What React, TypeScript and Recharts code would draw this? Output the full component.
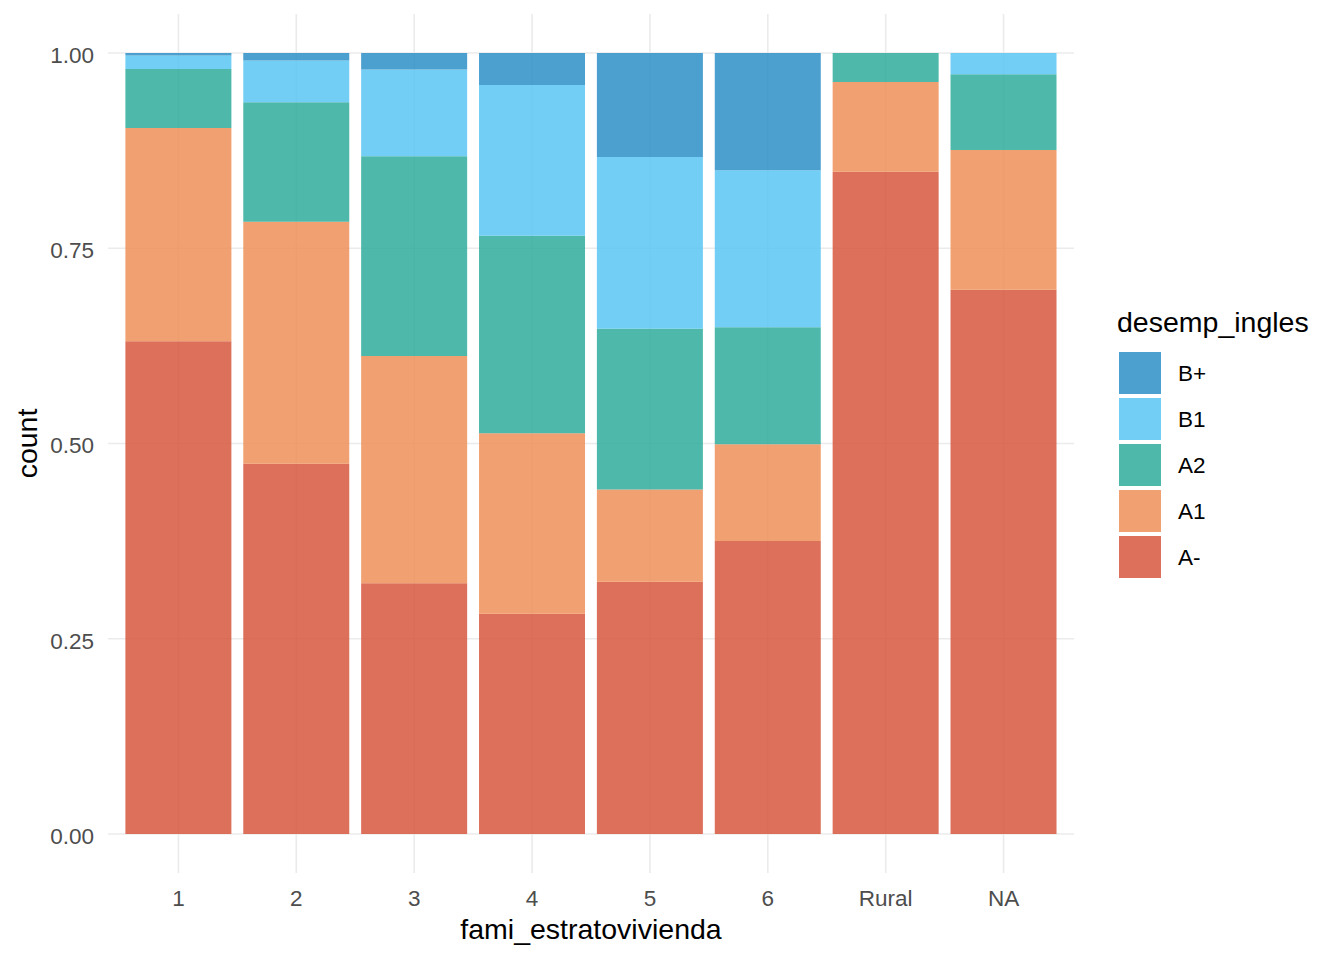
import React from 'react';
import { BarChart, Bar, XAxis, YAxis, CartesianGrid, Legend } from 'recharts';

const CATEGORIES = ['1', '2', '3', '4', '5', '6', 'Rural', 'NA'];
const SERIES = ['A-', 'A1', 'A2', 'B1', 'B+'];
const A_MINUS = [0.631, 0.474, 0.321, 0.282, 0.323, 0.375, 0.848, 0.697];
const A1 = [0.273, 0.31, 0.291, 0.231, 0.118, 0.124, 0.115, 0.179];
const A2 = [0.0755, 0.153, 0.256, 0.253, 0.206, 0.15, 0.037, 0.097];
const B1 = [0.0175, 0.0536, 0.111, 0.193, 0.22, 0.201, 0, 0.027];
const B_PLUS = [0.003, 0.0094, 0.021, 0.041, 0.133, 0.15, 0, 0];
const MAJOR_TICKS = [0, 0.25, 0.5, 0.75, 1];
const MINOR_TICKS = [0.125, 0.375, 0.625, 0.875];
const COLORS: Record<string, string> = {
  'A-': '#D6573D',
  A1: '#EE9058',
  A2: '#2FAC9C',
  B1: '#59C5F2',
  'B+': '#2D8FC8',
};
const VALUES: Record<string, number[]> = { 'A-': A_MINUS, A1, A2, B1, 'B+': B_PLUS };

const data = CATEGORIES.map((c, i) => {
  const row: Record<string, any> = { cat: c };
  SERIES.forEach((s) => (row[s] = VALUES[s][i]));
  return row;
});

const FONT = '"Liberation Sans", Arial, sans-serif';
const ALPHA = 0.85;

const renderLegend = (props: any) => {
  const payload = [...(props.payload || [])].sort(
    (a: any, b: any) => SERIES.indexOf(b.value) - SERIES.indexOf(a.value)
  );
  return (
    <div style={{ fontFamily: FONT }}>
      <div style={{ fontSize: 28.5, lineHeight: 1, color: '#000', marginLeft: -2, whiteSpace: 'nowrap' }}>
        desemp_ingles
      </div>
      <div style={{ height: 15.5 }} />
      {payload.map((p: any) => (
        <div key={p.value} style={{ display: 'flex', alignItems: 'center', height: 42, marginBottom: 4 }}>
          <div style={{ width: 42, height: 42, background: p.color, opacity: ALPHA }} />
          <span style={{ marginLeft: 17, fontSize: 22.5, lineHeight: 1, color: '#000', position: 'relative', top: 1 }}>
            {p.value}
          </span>
        </div>
      ))}
    </div>
  );
};

export default function App() {
  return (
    <div style={{ position: 'absolute', left: 0, top: 0, width: 1344, height: 960, fontFamily: FONT, background: '#fff' }}>
      <BarChart
        width={1344}
        height={960}
        data={data}
        margin={{ top: 14, right: 270, bottom: 0, left: 0 }}
        barCategoryGap="5%"
      >
        <CartesianGrid yAxisId="minor" vertical={false} stroke="#ebebeb" strokeWidth={0.9} syncWithTicks />
        <CartesianGrid yAxisId="major" stroke="#ebebeb" strokeWidth={1.6} syncWithTicks />
        <XAxis
          dataKey="cat"
          type="category"
          height={87}
          padding={{ left: 11.5, right: 11.5 }}
          axisLine={false}
          tickLine={false}
          tickSize={0}
          tickMargin={17}
          interval={0}
          tick={{ fill: '#4d4d4d', fontSize: 22.5, fontFamily: FONT }}
          label={{
            value: 'fami_estratovivienda',
            position: 'insideBottom',
            offset: 21,
            fill: '#000',
            fontSize: 28.5,
            fontFamily: FONT,
          }}
        />
        <YAxis
          yAxisId="major"
          type="number"
          domain={[-0.05, 1.05]}
          ticks={MAJOR_TICKS}
          width={108}
          axisLine={false}
          tickLine={false}
          tickSize={0}
          tickMargin={14}
          tickFormatter={(v: number) => v.toFixed(2)}
          tick={{ fill: '#4d4d4d', fontSize: 22.5, fontFamily: FONT, dy: 2 }}
          label={{
            value: 'count',
            angle: -90,
            position: 'insideLeft',
            offset: 26.6,
            fill: '#000',
            fontSize: 28.5,
            fontFamily: FONT,
            style: { textAnchor: 'middle' },
          }}
        />
        <YAxis yAxisId="minor" type="number" domain={[-0.05, 1.05]} ticks={MINOR_TICKS} hide />
        {SERIES.map((s) => (
          <Bar
            key={s}
            yAxisId="major"
            dataKey={s}
            name={s}
            stackId="a"
            fill={COLORS[s]}
            fillOpacity={ALPHA}
            isAnimationActive={false}
          />
        ))}
        <Legend
          layout="vertical"
          align="center"
          verticalAlign="middle"
          content={renderLegend}
          wrapperStyle={{ left: 1119, top: 308, width: 220 }}
        />
      </BarChart>
    </div>
  );
}
